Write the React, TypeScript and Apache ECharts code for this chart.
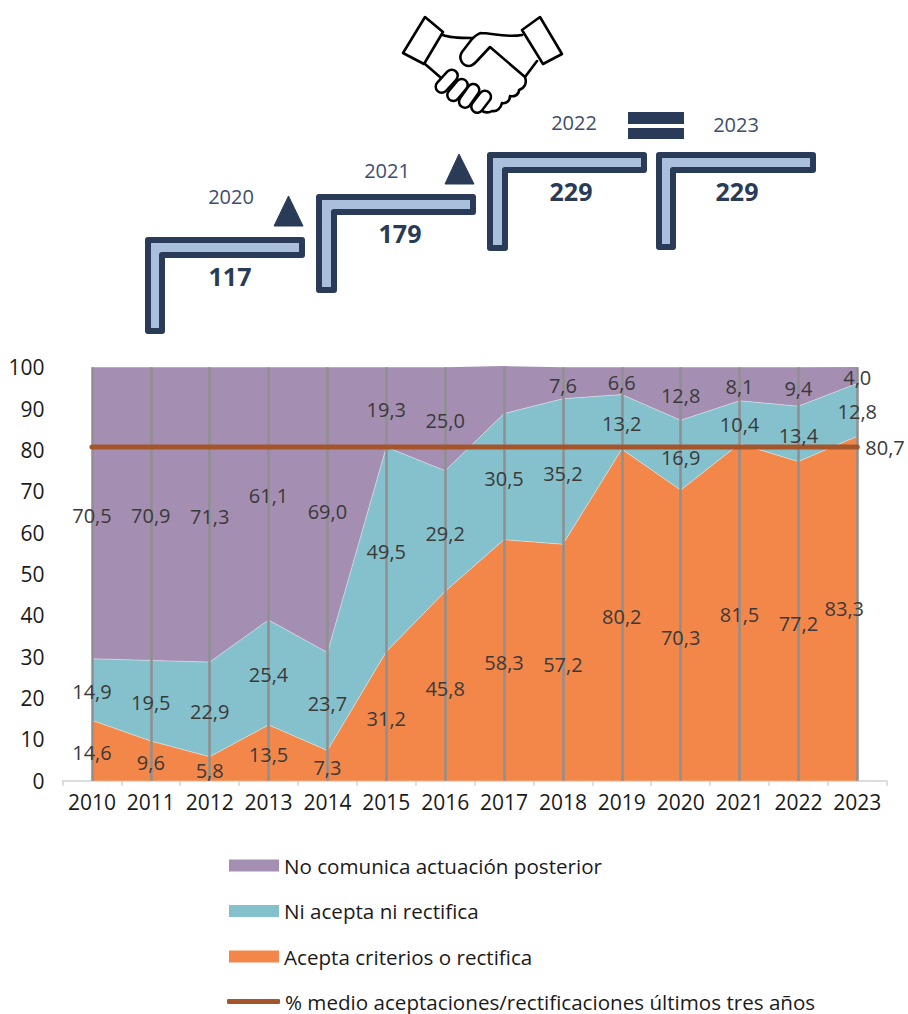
import React, { useEffect, useRef } from "react";
import * as echarts from "echarts";

const years = ["2010","2011","2012","2013","2014","2015","2016","2017","2018","2019","2020","2021","2022","2023"];
const acepta = [14.6,9.6,5.8,13.5,7.3,31.2,45.8,58.3,57.2,80.2,70.3,81.5,77.2,83.3];
const niAcepta = [14.9,19.5,22.9,25.4,23.7,49.5,29.2,30.5,35.2,13.2,16.9,10.4,13.4,12.8];
const noComunica = [70.5,70.9,71.3,61.1,69.0,19.3,25.0,11.5,7.6,6.6,12.8,8.1,9.4,4.0];
const media = [80.7,80.7,80.7,80.7,80.7,80.7,80.7,80.7,80.7,80.7,80.7,80.7,80.7,80.7];
const unlabelledNoComunicaYear = "2017";
const yTicks = { min: 0, max: 100, interval: 10 };

const seriesNames = ["No comunica actuación posterior","Ni acepta ni rectifica","Acepta criterios o rectifica","% medio aceptaciones/rectificaciones últimos tres años"];

const steps = [
  { year: "2020", total: "117" },
  { year: "2021", total: "179" },
  { year: "2022", total: "229" },
  { year: "2023", total: "229" },
];

const FONT = '"Open Sans", "Noto Sans", sans-serif';
const NAVY = "#2a3b57";
const C_PURPLE = "#a48fb2";
const C_TEAL = "#85c1cc";
const C_ORANGE = "#f3874a";
const C_BROWN = "#a5552a";
const C_GUIDE = "#8f8f8f";
const C_LABEL = "#3a3a3a";

echarts.graphic.registerShape(
  "handshake",
  echarts.graphic.extendPath(
    "M425,17 L443,32 L424,64 L403,53 Z M540,17 L522,30 L543,64 L562,54 Z " +
    "M443,35 C450,38 460,38 472,38 M481,33 C492,33 505,38 522,35 " +
    "M481,33 C477,34 475,36 472,39 L462,52 C458,58 462,66 469,66 C472,66 474,64 476,62 L490,47 L525,77 " +
    "C527,83 525,88 519,90 C519,95 514,97 510,96 C510,101 506,104 502,103 C501,108 497,112 492,111 C489,113 484,113 481,110 " +
    "M425,64 L440,77 M537,61 L525,77",
    {}
  ) as any
);

const fingers = [
  [441.7, 86.7, 451.7, 75.7],
  [453.3, 95, 461.7, 85],
  [465, 101.7, 473.3, 90],
  [477.3, 106.7, 485, 96.7],
];

function lShape(x0: number, x1: number, xv: number, y0: number, ya: number, y1: number) {
  return {
    type: "polygon",
    shape: { points: [[x0, y0], [x1, y0], [x1, ya], [xv, ya], [xv, y1], [x0, y1]] },
    style: { fill: "#aabfdb", stroke: NAVY, lineWidth: 6, lineJoin: "round" },
  };
}

function centered(text: string, x: number, y: number, size: number, weight: string | number, fill: string) {
  return {
    type: "text",
    style: { text, x, y, align: "center", verticalAlign: "middle", textAlign: "center", textVerticalAlign: "middle", fontFamily: FONT, fontSize: size, fontWeight: weight, fill },
  };
}

const comma = (v: number) => v.toFixed(1).replace(".", ",");

function labelSeries(name: string, vals: number[], base: number[], skip?: string) {
  return {
    type: "scatter",
    name: name + " (etiquetas)",
    symbolSize: 1,
    z: 8,
    silent: true,
    itemStyle: { color: "rgba(0,0,0,0)", opacity: 1 },
    label: {
      show: true,
      position: "inside",
      offset: [0, 2],
      color: C_LABEL,
      opacity: 1,
      fontFamily: FONT,
      fontSize: 20,
      formatter: (p: any) => comma(p.data.value[2]),
    },
    data: years
      .map((y, i) => ({
        year: y,
        value: [y, base[i] + vals[i] / 2, vals[i]],
        ...(y === "2023" && vals === acepta ? { label: { offset: [-13, 0] } } : {}),
      }))
      .filter((d) => d.year !== skip)
      .map(({ year, ...d }) => d),
  };
}

export default function App() {
  const ref = useRef<HTMLDivElement>(null);
  useEffect(() => {
    const chart = echarts.init(ref.current!, null, { renderer: "svg" });
    const stack2 = acepta.map((v, i) => v + niAcepta[i]);
    const seam = { width: 0.8, color: "rgba(255,255,255,0.5)" };
    const legendText = { color: "#1a1a1a", fontSize: 20.6, fontFamily: FONT };
    chart.setOption({
      animation: false,
      backgroundColor: "#fff",
      textStyle: { fontFamily: FONT },
      grid: { left: 62.5, right: 21.3, top: 367.3, bottom: 233.3, containLabel: false },
      xAxis: {
        type: "category",
        data: years,
        boundaryGap: true,
        axisLine: { show: true, lineStyle: { color: "#d2d2d2", width: 1.5 } },
        axisTick: { show: true, alignWithLabel: false, length: 5, lineStyle: { color: "#d2d2d2", width: 1.5 } },
        axisLabel: { color: "#1a1a1a", fontSize: 21, fontFamily: FONT, margin: 11, interval: 0 },
      },
      yAxis: {
        type: "value",
        min: yTicks.min,
        max: yTicks.max,
        interval: yTicks.interval,
        axisLine: { show: false },
        axisTick: { show: false },
        splitLine: { show: false },
        axisLabel: { color: "#1a1a1a", fontSize: 21, fontFamily: FONT, margin: 18 },
      },
      legend: [
        {
          orient: "vertical",
          left: 229,
          top: 855,
          itemWidth: 50,
          itemHeight: 12,
          itemGap: 24.5,
          padding: 0,
          selectedMode: false,
          textStyle: legendText,
          data: [
            { name: seriesNames[0], icon: "rect" },
            { name: seriesNames[1], icon: "rect" },
            { name: seriesNames[2], icon: "rect" },
          ],
        },
        {
          orient: "vertical",
          left: 227,
          top: 991,
          itemWidth: 53,
          itemHeight: 5,
          padding: 0,
          selectedMode: false,
          textStyle: legendText,
          data: [{ name: seriesNames[3], icon: "roundRect" }],
        },
      ],
      series: [
        {
          type: "line", name: seriesNames[2], stack: "t", data: acepta, symbol: "none", clip: false, z: 2,
          itemStyle: { color: C_ORANGE }, areaStyle: { color: C_ORANGE, opacity: 1 }, lineStyle: seam,
        },
        {
          type: "line", name: seriesNames[1], stack: "t", data: niAcepta, symbol: "none", clip: false, z: 2,
          itemStyle: { color: C_TEAL }, areaStyle: { color: C_TEAL, opacity: 1 }, lineStyle: seam,
        },
        {
          type: "line", name: seriesNames[0], stack: "t", data: noComunica, symbol: "none", clip: false, z: 2,
          itemStyle: { color: C_PURPLE }, areaStyle: { color: C_PURPLE, opacity: 1 }, lineStyle: { width: 0 },
          markLine: {
            silent: true, symbol: "none", z: 5, animation: false,
            label: { show: false },
            lineStyle: { color: C_GUIDE, width: 2.5, type: "solid" },
            data: years.map((y) => [{ xAxis: y, yAxis: yTicks.min }, { xAxis: y, yAxis: yTicks.max }]),
          },
        },
        {
          type: "line", name: seriesNames[3], data: media, symbol: "none", z: 6, clip: false,
          itemStyle: { color: C_BROWN },
          lineStyle: { color: C_BROWN, width: 5, cap: "round" },
          endLabel: { show: true, distance: 8, color: C_LABEL, fontSize: 20, fontFamily: FONT, formatter: (p: any) => comma(p.value) },
        },
        labelSeries(seriesNames[2], acepta, acepta.map(() => 0)),
        labelSeries(seriesNames[1], niAcepta, acepta),
        labelSeries(seriesNames[0], noComunica, stack2, unlabelledNoComunicaYear),
      ],
      graphic: { elements: [
        lShape(148, 302, 162, 240, 255, 331),
        lShape(319, 473, 334, 197, 212, 290),
        lShape(490, 644, 505, 155, 170, 248),
        lShape(659, 813, 673, 155, 170, 247),
        { type: "polygon", shape: { points: [[288.5, 196], [303, 226], [274, 226]] }, style: { fill: NAVY, stroke: NAVY, lineWidth: 1, lineJoin: "round" } },
        { type: "polygon", shape: { points: [[459, 154], [474, 184], [445, 184]] }, style: { fill: NAVY, stroke: NAVY, lineWidth: 1, lineJoin: "round" } },
        { type: "rect", shape: { x: 628, y: 112, width: 56, height: 12 }, style: { fill: NAVY } },
        { type: "rect", shape: { x: 628, y: 128, width: 56, height: 11 }, style: { fill: NAVY } },
        centered(steps[0].total, 230, 276, 25, 700, NAVY),
        centered(steps[1].total, 400, 233, 25, 700, NAVY),
        centered(steps[2].total, 571, 191, 25, 700, NAVY),
        centered(steps[3].total, 737, 191, 25, 700, NAVY),
        centered(steps[0].year, 231, 196, 20, 400, "#3d4d6b"),
        centered(steps[1].year, 387, 170, 20, 400, "#3d4d6b"),
        centered(steps[2].year, 574, 122, 20, 400, "#3d4d6b"),
        centered(steps[3].year, 736, 124, 20, 400, "#3d4d6b"),
        { type: "handshake", style: { fill: "none", stroke: "#000", lineWidth: 2.6, lineJoin: "round", lineCap: "round" } },
        ...fingers.flatMap(([x1, y1, x2, y2]) => [
          { type: "line", shape: { x1, y1, x2, y2 }, style: { stroke: "#000", lineWidth: 14.5, lineCap: "round" } },
          { type: "line", shape: { x1, y1, x2, y2 }, style: { stroke: "#fff", lineWidth: 9.5, lineCap: "round" } },
        ]),
      ] },
    });
    return () => chart.dispose();
  }, []);
  return <div ref={ref} style={{ position: "absolute", left: 0, top: 0, width: 908, height: 1014 }} />;
}
